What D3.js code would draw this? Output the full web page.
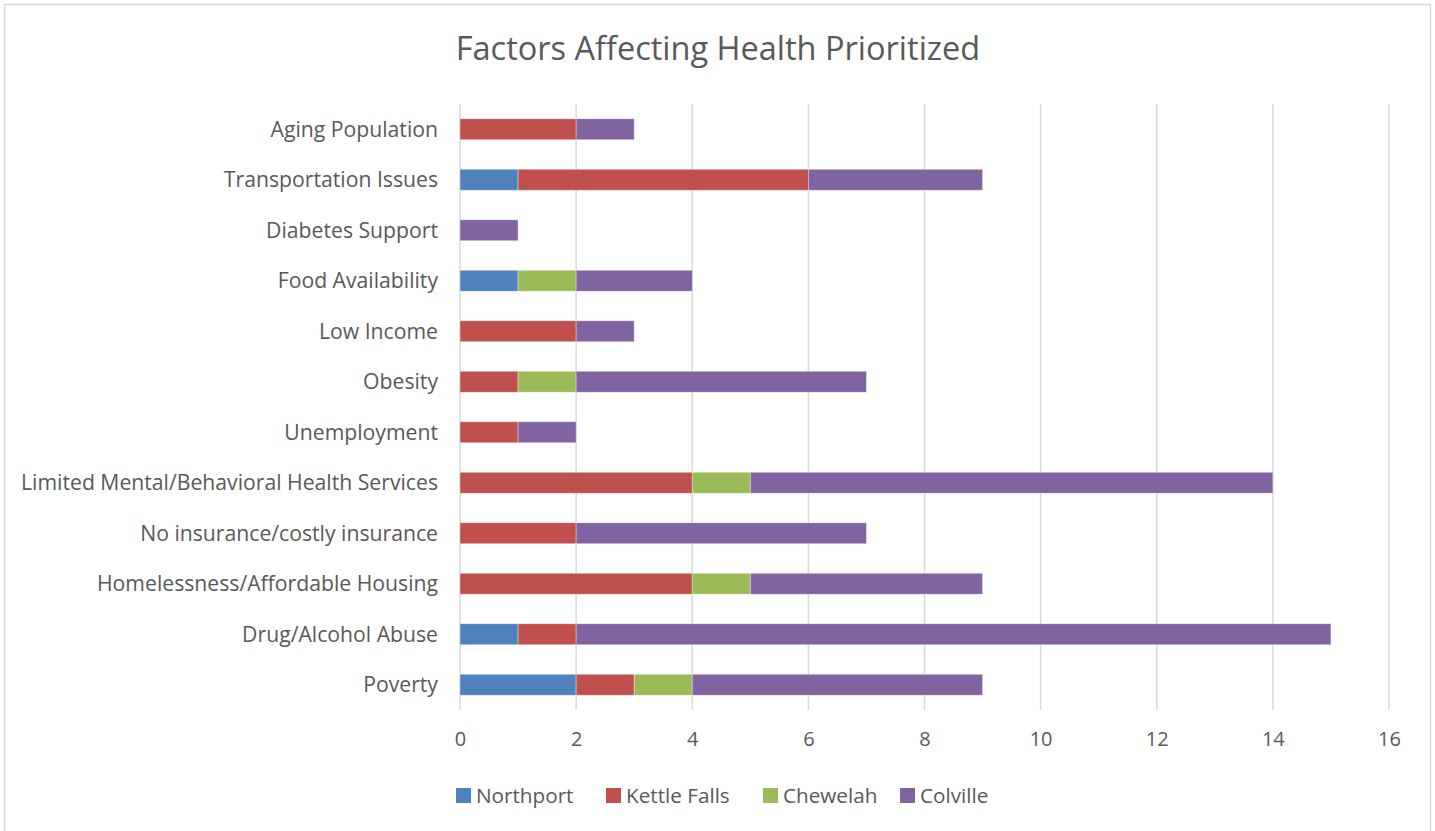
<!DOCTYPE html>
<html>
<head>
<meta charset="utf-8">
<script src="https://cdn.jsdelivr.net/npm/d3@7"></script>
<style>
  body { margin: 0; background: #fff; }
  svg { display: block; font-family: "Open Sans", "Liberation Sans", sans-serif; }
</style>
</head>
<body>
<svg></svg>
<script>
// Data
var categories = ["Aging Population", "Transportation Issues", "Diabetes Support", "Food Availability",
  "Low Income", "Obesity", "Unemployment", "Limited Mental/Behavioral Health Services",
  "No insurance/costly insurance", "Homelessness/Affordable Housing", "Drug/Alcohol Abuse", "Poverty"];
var seriesNames = ["Northport", "Kettle Falls", "Chewelah", "Colville"];
var northport   = [0, 1, 0, 1, 0, 0, 0, 0, 0, 0, 1, 2];
var kettleFalls = [2, 5, 0, 0, 2, 1, 1, 4, 2, 4, 1, 1];
var chewelah    = [0, 0, 0, 1, 0, 1, 0, 1, 0, 1, 0, 1];
var colville    = [1, 3, 1, 2, 1, 5, 1, 9, 5, 4, 13, 5];
var xTicks = [0, 2, 4, 6, 8, 10, 12, 14, 16];
var colors = ["#4F81BD", "#C0504D", "#9BBB59", "#8064A2"];

// Layout
var svgWidth = 1435, svgHeight = 831;
var plot = {left: 460, right: 1389, top: 104, bottom: 710};

var svg = d3.select("svg").attr("width", svgWidth).attr("height", svgHeight);

// chart frame
svg.append("rect")
  .attr("x", 4.5).attr("y", 4.5)
  .attr("width", 1426).attr("height", 840)
  .attr("fill", "#fff").attr("stroke", "#d9d9d9").attr("stroke-width", 1.5);

// table for stacking
var table = categories.map(function(c, i) {
  return {cat: c, Northport: northport[i], "Kettle Falls": kettleFalls[i], Chewelah: chewelah[i], Colville: colville[i]};
});
var stacked = d3.stack().keys(seriesNames)(table);

var x = d3.scaleLinear().domain([0, 16]).range([plot.left, plot.right]);
var y = d3.scaleBand().domain(categories).range([plot.top, plot.bottom]).paddingInner(0.585).paddingOuter(0.2925);

// gridlines
svg.append("g").selectAll("line")
  .data(xTicks)
  .join("line")
  .attr("x1", function(d) { return x(d); }).attr("x2", function(d) { return x(d); })
  .attr("y1", plot.top).attr("y2", plot.bottom)
  .attr("stroke", "#d9d9d9").attr("stroke-width", 1.5);

// bars
svg.append("g").selectAll("g")
  .data(stacked)
  .join("g")
  .attr("fill", function(d, i) { return colors[i]; })
  .selectAll("rect")
  .data(function(d) { return d.filter(function(s) { return s[1] > s[0]; }); })
  .join("rect")
  .attr("x", function(d) { return x(d[0]); })
  .attr("y", function(d) { return y(d.data.cat); })
  .attr("width", function(d) { return x(d[1]) - x(d[0]); })
  .attr("height", y.bandwidth())
  .attr("stroke", "rgba(255,255,255,0.45)").attr("stroke-width", 0.8);

// category labels
svg.append("g").selectAll("text")
  .data(categories)
  .join("text")
  .attr("x", plot.left - 22)
  .attr("y", function(d) { return y(d) + y.bandwidth() / 2; })
  .attr("dy", "0.35em")
  .attr("text-anchor", "end")
  .attr("fill", "#595959")
  .attr("font-size", "21.2px")
  .text(function(d) { return d; });

// x axis tick labels
var xAxis = d3.axisBottom(x).tickValues(xTicks).tickSize(0).tickPadding(22);
var gx = svg.append("g").attr("transform", "translate(0," + plot.bottom + ")").call(xAxis);
gx.select(".domain").remove();
gx.selectAll("text").attr("fill", "#595959").attr("font-size", "20px")
  .attr("font-family", "\"Open Sans\", \"Liberation Sans\", sans-serif");

// title
svg.append("text")
  .attr("x", 718).attr("y", 60)
  .attr("text-anchor", "middle")
  .attr("fill", "#595959")
  .attr("font-size", "32.5px")
  .text("Factors Affecting Health Prioritized");

// legend
var legendX = [456, 606, 763, 900];
var legend = svg.append("g").selectAll("g")
  .data(seriesNames)
  .join("g")
  .attr("transform", function(d, i) { return "translate(" + legendX[i] + ",795.5)"; });
legend.append("rect")
  .attr("x", 0).attr("y", -7.5).attr("width", 15).attr("height", 15)
  .attr("fill", function(d, i) { return colors[i]; });
legend.append("text")
  .attr("x", 20).attr("dy", "0.35em")
  .attr("fill", "#595959").attr("font-size", "20.7px")
  .text(function(d) { return d; });
</script>
</body>
</html>
